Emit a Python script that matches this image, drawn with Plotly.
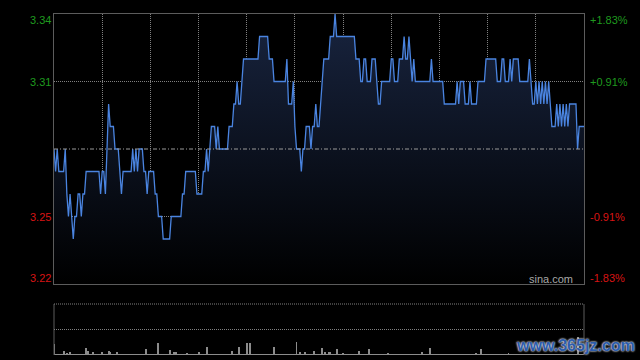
import plotly.graph_objects as go

# ---- data ----
prices = [
    3.28, 3.27, 3.28, 3.27, 3.27, 3.27, 3.27, 3.28, 3.26, 3.25,
    3.26, 3.25, 3.24, 3.25, 3.25, 3.26, 3.26, 3.25, 3.26, 3.26,
    3.27, 3.27, 3.27, 3.27, 3.27, 3.27, 3.27, 3.27, 3.27, 3.26,
    3.27, 3.27, 3.26, 3.28, 3.30, 3.29, 3.29, 3.29, 3.28, 3.28,
    3.28, 3.27, 3.26, 3.27, 3.27, 3.27, 3.27, 3.27, 3.27, 3.28,
    3.27, 3.28, 3.27, 3.28, 3.28, 3.28, 3.27, 3.27, 3.26, 3.27,
    3.27, 3.27, 3.27, 3.26, 3.26, 3.25, 3.25, 3.25, 3.24, 3.24,
    3.24, 3.24, 3.24, 3.25, 3.25, 3.25, 3.25, 3.25, 3.25, 3.25,
    3.26, 3.26, 3.27, 3.27, 3.27, 3.27, 3.27, 3.27, 3.27, 3.26,
    3.26, 3.26, 3.26, 3.27, 3.27, 3.28, 3.27, 3.28, 3.29, 3.29,
    3.29, 3.28, 3.29, 3.28, 3.28, 3.28, 3.28, 3.28, 3.28, 3.29,
    3.29, 3.29, 3.30, 3.30, 3.31, 3.30, 3.30, 3.31, 3.32, 3.32,
    3.32, 3.32, 3.32, 3.32, 3.32, 3.32, 3.32, 3.32, 3.33, 3.33,
    3.33, 3.33, 3.33, 3.33, 3.32, 3.32, 3.32, 3.31, 3.31, 3.31,
    3.31, 3.31, 3.31, 3.31, 3.31, 3.32, 3.30, 3.30, 3.30, 3.31,
    3.29, 3.28, 3.28, 3.28, 3.27, 3.28, 3.28, 3.29, 3.29, 3.29,
    3.28, 3.29, 3.29, 3.30, 3.29, 3.29, 3.30, 3.31, 3.32, 3.32,
    3.32, 3.32, 3.33, 3.33, 3.33, 3.34, 3.33, 3.33, 3.33, 3.33,
    3.33, 3.33, 3.33, 3.33, 3.33, 3.33, 3.33, 3.33, 3.32, 3.32,
    3.32, 3.31, 3.31, 3.32, 3.32, 3.31, 3.31, 3.31, 3.32, 3.32,
    3.32, 3.31, 3.30, 3.30, 3.31, 3.31, 3.31, 3.31, 3.31, 3.31,
    3.32, 3.32, 3.31, 3.31, 3.31, 3.32, 3.32, 3.32, 3.33, 3.32,
    3.32, 3.33, 3.32, 3.31, 3.32, 3.31, 3.31, 3.31, 3.31, 3.31,
    3.31, 3.31, 3.31, 3.31, 3.31, 3.32, 3.31, 3.31, 3.31, 3.31,
    3.31, 3.31, 3.31, 3.30, 3.30, 3.30, 3.30, 3.30, 3.30, 3.30,
    3.30, 3.31, 3.30, 3.31, 3.31, 3.31, 3.30, 3.30, 3.30, 3.31,
    3.30, 3.30, 3.30, 3.30, 3.31, 3.31, 3.31, 3.31, 3.31, 3.32,
    3.32, 3.32, 3.32, 3.32, 3.32, 3.32, 3.31, 3.31, 3.31, 3.32,
    3.32, 3.31, 3.31, 3.31, 3.32, 3.31, 3.32, 3.32, 3.32, 3.32,
    3.31, 3.31, 3.31, 3.31, 3.31, 3.31, 3.32, 3.31, 3.30, 3.30,
    3.31, 3.30, 3.31, 3.30, 3.31, 3.30, 3.31, 3.30, 3.31, 3.30,
    3.29, 3.29, 3.29, 3.30, 3.29, 3.30, 3.29, 3.30, 3.29, 3.30,
    3.29, 3.30, 3.30, 3.30, 3.30, 3.30, 3.28, 3.29, 3.29, 3.29,
    3.29,
]

volumes = [
    11, 1, 1, 1, 1, 1, 4, 1, 2, 1,
    3, 1, 1, 1, 1, 1, 1, 1, 1, 1,
    7, 4, 1, 1, 3, 1, 1, 1, 1, 1,
    3, 1, 1, 1, 4, 3, 1, 1, 1, 3,
    1, 1, 1, 1, 1, 1, 1, 1, 1, 1,
    1, 1, 1, 1, 1, 1, 1, 6, 1, 1,
    1, 1, 1, 1, 1, 12, 1, 1, 1, 1,
    1, 1, 5, 1, 1, 3, 3, 1, 1, 1,
    1, 1, 1, 2, 1, 1, 1, 1, 1, 1,
    3, 1, 1, 1, 1, 8, 1, 1, 1, 1,
    1, 1, 1, 1, 1, 1, 1, 1, 1, 1,
    1, 4, 1, 1, 1, 8, 1, 1, 1, 1,
    12, 1, 12, 1, 1, 1, 1, 1, 1, 1,
    1, 1, 1, 1, 1, 1, 1, 8, 1, 1,
    1, 1, 1, 1, 1, 1, 1, 1, 1, 1,
    1, 13, 1, 3, 1, 1, 3, 1, 1, 1,
    1, 1, 4, 1, 1, 1, 1, 7, 1, 3,
    1, 3, 3, 1, 1, 1, 6, 1, 1, 1,
    2, 1, 1, 1, 1, 1, 1, 1, 1, 1,
    4, 1, 1, 1, 1, 1, 6, 1, 1, 1,
    1, 1, 1, 1, 1, 1, 1, 1, 2, 1,
    1, 1, 1, 1, 1, 1, 1, 1, 1, 1,
    1, 1, 1, 1, 1, 1, 1, 1, 1, 3,
    1, 1, 1, 1, 7, 1, 1, 1, 1, 1,
    1, 1, 1, 1, 1, 1, 1, 1, 1, 1,
    1, 1, 1, 1, 1, 1, 1, 1, 1, 1,
    1, 1, 1, 2, 1, 1, 6, 1, 1, 1,
    1, 1, 1, 1, 1, 1, 1, 1, 1, 1,
    1, 1, 1, 2, 1, 1, 1, 1, 1, 1,
    1, 1, 1, 1, 1, 1, 1, 1, 1, 1,
    1, 1, 1, 1, 1, 1, 1, 1, 1, 1,
    1, 1, 1, 1, 1, 1, 1, 1, 1, 1,
    1, 1, 1, 1, 1, 1, 18, 1, 1, 1,
    1,
]

minutes = list(range(len(prices)))
prev_close = 3.28
price_min, price_max = 3.22, 3.34
left_values = [3.34, 3.31, 3.25, 3.22]
left_labels = ["3.34", "3.31", "3.25", "3.22"]
right_labels = ["+1.83%", "+0.91%", "-0.91%", "-1.83%"]
label_colors = ["#1f9a1f", "#1f9a1f", "#d81414", "#d81414"]
label_shifts = [-6, 0, 0, 6]
grid_minutes = [0, 30, 60, 90, 120, 150, 180, 210, 240, 270, 300, 330]
vol_max = 51

FONT = "Liberation Sans, Arial, sans-serif"
FRAME = "#5c5c5c"
GRID = "#808080"
DOT = "1px,1px"

fig = go.Figure()
fig.add_trace(go.Scatter(
    x=minutes, y=prices, mode="lines",
    line=dict(color="#4a84e0", width=1.3),
    fill="tozeroy",
    fillgradient=dict(type="vertical", start=price_min, stop=price_max,
                      colorscale=[[0, "#000000"], [1, "#18243f"]]),
    hoverinfo="skip", xaxis="x", yaxis="y",
))
fig.add_trace(go.Bar(
    x=minutes, y=volumes, width=0.6,
    marker=dict(color="#8c8c8c", line=dict(width=0)),
    hoverinfo="skip", xaxis="x2", yaxis="y2",
))

main_bottom = (355 - 284) / 341
vol_top = (355 - 304) / 341

fig.update_layout(
    width=640, height=360,
    margin=dict(l=54, r=56, t=14, b=5),
    paper_bgcolor="#000000", plot_bgcolor="#000000",
    showlegend=False, bargap=0,
    xaxis=dict(domain=[0, 1], range=[0, 330], anchor="y",
               tickvals=grid_minutes, showticklabels=False, ticks="",
               showgrid=True, gridcolor=GRID, griddash=DOT, gridwidth=1,
               zeroline=False, showline=True, linecolor=FRAME, linewidth=1,
               mirror=True),
    yaxis=dict(domain=[main_bottom, 1], range=[price_min, price_max],
               anchor="x", tickvals=[3.25, 3.31], showticklabels=False,
               ticks="", showgrid=True, gridcolor=GRID, griddash=DOT,
               gridwidth=1, zeroline=False, showline=True, linecolor=FRAME,
               linewidth=1, mirror=True),
    xaxis2=dict(domain=[0, 1], range=[0, 330], anchor="y2", visible=False),
    yaxis2=dict(domain=[0, vol_top], range=[0, vol_max], anchor="x2",
                visible=False),
)

shapes = [
    dict(type="line", xref="x", yref="y", x0=0, x1=330,
         y0=prev_close, y1=prev_close,
         line=dict(color="#9a9a9a", width=1, dash="4px,2px,1px,2px")),
    dict(type="line", xref="paper", yref="paper", x0=0, x1=0,
         y0=0, y1=vol_top, line=dict(color=FRAME, width=1)),
    dict(type="line", xref="paper", yref="paper", x0=1, x1=1,
         y0=0, y1=vol_top, line=dict(color=FRAME, width=1)),
    dict(type="line", xref="paper", yref="paper", x0=0, x1=1,
         y0=vol_top, y1=vol_top, line=dict(color=GRID, width=1, dash=DOT)),
    dict(type="line", xref="paper", yref="paper", x0=0, x1=1,
         y0=vol_top / 2, y1=vol_top / 2,
         line=dict(color=GRID, width=1, dash=DOT)),
]
fig.update_layout(shapes=shapes)

annotations = []
for v, t, c, s in zip(left_values, left_labels, label_colors, label_shifts):
    annotations.append(dict(xref="paper", yref="y", x=0, y=v, text=t,
                            xanchor="right", yanchor="middle", xshift=-1,
                            yshift=s, showarrow=False,
                            font=dict(family=FONT, size=11, color=c)))
for v, t, c, s in zip(left_values, right_labels, label_colors, label_shifts):
    annotations.append(dict(xref="paper", yref="y", x=1, y=v, text=t,
                            xanchor="left", yanchor="middle", xshift=4,
                            yshift=s, showarrow=False,
                            font=dict(family=FONT, size=11, color=c)))
annotations.append(dict(xref="paper", yref="y", x=(575 - 54) / 530, y=price_min,
                        text="sina.com", xanchor="right", yanchor="middle",
                        yshift=5, showarrow=False,
                        font=dict(family=FONT, size=11, color="#a8a8a8")))
annotations.append(dict(xref="paper", yref="paper", x=(575 - 54) / 530,
                        y=(355 - 345) / 341, text="www.365jz.com",
                        xanchor="center", yanchor="middle", showarrow=False,
                        font=dict(family=FONT, size=16, color="#2c5cab",
                                  weight="bold",
                                  shadow="0px 0px 2px #e8eef8, 0px 0px 2px #e8eef8")))
fig.update_layout(annotations=annotations)

fig.write_html(
    "out.html",
    config={"displayModeBar": False},
    post_script="document.body.style.margin='0';document.body.style.background='#000';",
)
